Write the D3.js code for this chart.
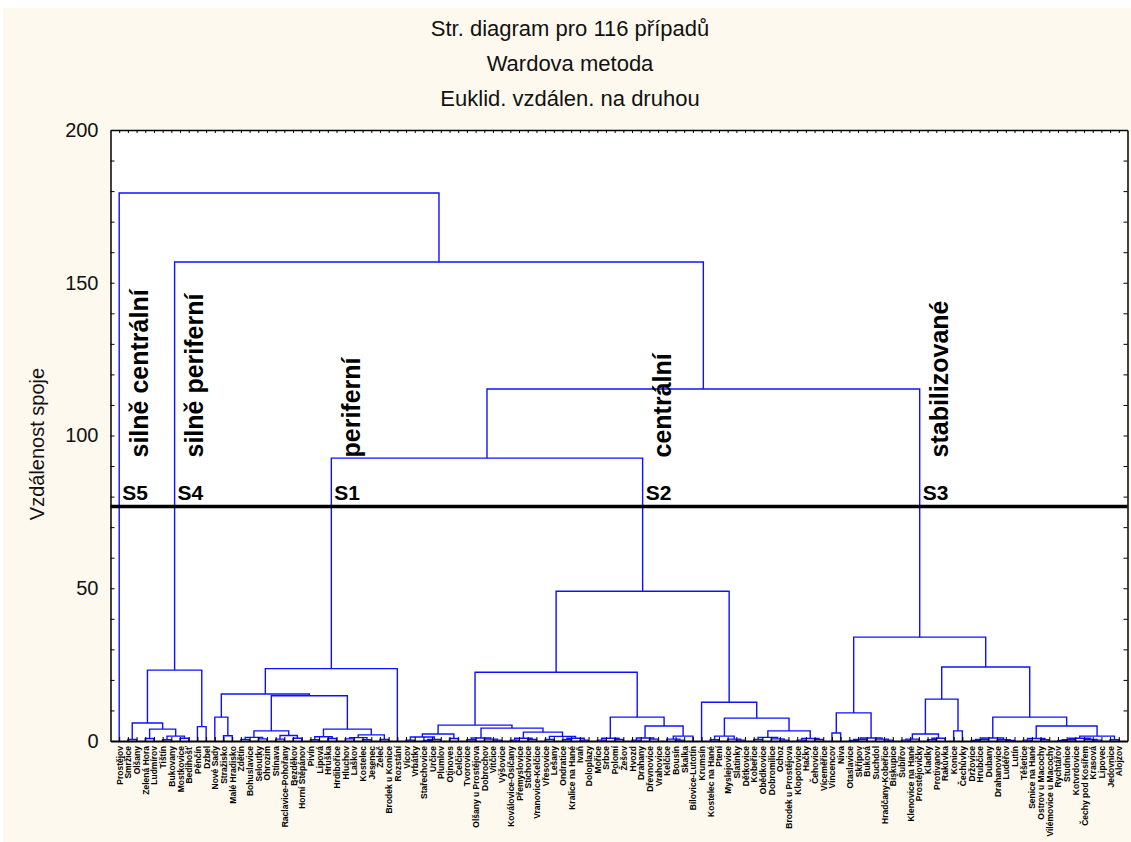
<!DOCTYPE html>
<html>
<head>
<meta charset="utf-8">
<script src="https://cdn.jsdelivr.net/npm/d3@7"></script>
<style>
  body { margin: 0; background: #ffffff; }
  svg { display: block; font-family: "Liberation Sans", Arial, sans-serif; }
</style>
</head>
<body>
<div id="chart"></div>
<script>
const titleLines = ["Str. diagram pro 116 případů", "Wardova metoda", "Euklid. vzdálen. na druhou"];
const yLabel = "Vzdálenost spoje";
const yTicks = [0, 50, 100, 150, 200];
const cutHeight = 76.8;
const clusterCodes = ["S5", "S4", "S1", "S2", "S3"];
const clusterNames = ["silně centrální", "silně periferní", "periferní", "centrální", "stabilizované"];

const leafNames = [
  "Prostějov", "Smržice", "Olšany", "Zelená Hora", "Ludmírov", "Tištín", "Bukovany", "Mostkovice",
  "Bedihošť", "Pěnčín", "Dzbel", "Nové Sady", "Stražisko", "Malé Hradisko", "Zdětín", "Bohuslavice",
  "Seloutky", "Ohrozim", "Stínava", "Raclavice-Pohořany", "Bezděkov", "Horní Štěpánov", "Pivín", "Lipová",
  "Hruška", "Hrdibořice", "Hluchov", "Laškov", "Kostelec", "Jesenec", "Želeč", "Brodek u Konice",
  "Rozstání", "Vícov", "Vrbátky", "Stařechovice", "Určice", "Plumlov", "Otinoves", "Čelčice",
  "Tvorovice", "Olšany u Prostějova", "Dobrochov", "Vitčice", "Výšovice", "Koválovice-Osíčany", "Přemyslovice", "Stichovice",
  "Vranovice-Kelčice", "Vřesovice", "Lešany", "Ondratice", "Kralice na Hané", "Ivaň", "Doloplazy", "Mořice",
  "Srbce", "Polomí", "Žešov", "Hvozd", "Drahany", "Dřevnovice", "Vrahovice", "Kelčice",
  "Bousín", "Skalka", "Bílovice-Lutotín", "Krumsín", "Kostelec na Hané", "Ptení", "Myslejovice", "Slatinky",
  "Dětkovice", "Kobeřice", "Obědkovice", "Dobromilice", "Ochoz", "Brodek u Prostějova", "Klopotovice", "Hačky",
  "Čehovice", "Víceměřice", "Vincencov", "Niva", "Otaslavice", "Skřípov", "Buková", "Suchdol",
  "Hradčany-Kobeřice", "Biskupice", "Šubířov", "Klenovice na Hané", "Prostějovičky", "Kladky", "Protivanov", "Rakůvka",
  "Konice", "Čechůvky", "Držovice", "Hrubčice", "Dubany", "Drahanovice", "Ludéřov", "Lutín",
  "Těšetice", "Senice na Hané", "Ostrov u Macochy", "Vilémovice u Macochy", "Rychtářov", "Studnice", "Kotvrdovice", "Čechy pod Kosířem",
  "Krasová", "Lipovec", "Jedovnice", "Alojzov"
];

// merge tree: [height, left, right]; a plain number is a leaf index into leafNames
const s4Tree = [23.2,
  [5.9, [0.5, 1, 2], [3.9, [0.8, 3, 4], [1.6, [0.4, 5, 6], [0.9, 7, 8]]]],
  [4.7, 9, 10]];

const s1Tree = [23.7,
  [15.4,
    [7.8, 11, [1.7, 12, 13]],
    [14.8,
      [3.3, [1.2, [0.5, 14, 15], [0.7, 16, 17]], [1.8, [0.6, 18, 19], [0.9, 20, 21]]],
      [3.9, [1.4, [0.4, 22, 23], [0.8, 24, 25]], [2.0, [1.1, [0.7, 26, 27], [0.4, 28, 29]], [0.5, 30, 31]]]]],
  32];

const s2Tree = [49,
  [22.5,
    [5.2,
      [2.3, [1.3, [0.3, 33, 34], [0.5, [0.2, 35, 36], 37]], [0.8, 38, 39]],
      [4.2, [1.0, [0.4, 40, 41], [0.6, 42, [0.3, 43, 44]]],
        [2.9, [0.9, [0.3, 45, 46], [0.5, 47, 48]], [1.5, [0.5, 49, 50], [0.9, [0.4, 51, 52], [0.3, 53, 54]]]]]],
    [7.8,
      [0.9, [0.3, 55, 56], [0.5, 57, 58]],
      [4.9, [1.0, [0.3, 59, 60], [0.6, 61, 62]], [1.6, [0.6, 63, [0.3, 64, 65]], 66]]]],
  [12.7, 67,
    [7.5,
      [1.6, [0.4, 68, 69], [0.6, 70, [0.3, 71, 72]]],
      [3.3, [1.2, [0.5, 73, 74], [0.7, 75, [0.3, 76, 77]]], [0.8, [0.3, 78, 79], [0.5, 80, 81]]]]]];

const s3Tree = [34,
  [9.2, [2.6, 82, 83], [1.0, [0.5, [0.2, 84, 85], 86], [0.6, 87, [0.3, 88, 89]]]],
  [24.2,
    [13.7, [2.3, [0.6, [0.3, 90, 91], 92], [0.9, [0.4, 93, 94], 95]], [3.3, 96, 97]],
    [7.8,
      [1.0, [0.5, [0.2, 98, 99], 100], [0.4, 101, [0.2, 102, 103]]],
      [4.9, [0.8, [0.3, 104, 105], [0.4, 106, 107]],
        [1.6, [0.9, [0.4, [0.2, 108, 109], 110], [0.5, 111, [0.3, 112, 113]]], [0.4, 114, 115]]]]]];

const fullTree = [179.4, 0, [156.8, s4Tree, [115.2, [92.6, s1Tree, s2Tree], s3Tree]]];

const width = 1131, height = 842;
const plot = { left: 110.5, right: 1127.5, top: 130, bottom: 741 };

const svg = d3.select("#chart").append("svg")
  .attr("width", width).attr("height", height)
  .attr("viewBox", `0 0 ${width} ${height}`);

svg.append("rect").attr("x", 3).attr("y", 8).attr("width", width - 3).attr("height", height - 8)
  .attr("fill", "#fdf9ee");
svg.append("rect").attr("x", plot.left).attr("y", plot.top)
  .attr("width", plot.right - plot.left).attr("height", plot.bottom - plot.top)
  .attr("fill", "#ffffff");

const x = d3.scaleLinear().domain([-1, leafNames.length]).range([plot.left, plot.right]);
const y = d3.scaleLinear().domain([0, 200]).range([plot.bottom, plot.top]);

// titles
svg.append("g").selectAll("text").data(titleLines).join("text")
  .attr("x", 570).attr("y", (d, i) => 36 + i * 35)
  .attr("text-anchor", "middle")
  .style("font-size", "22px").style("fill", "#111")
  .text(d => d);

// hierarchy: leaves sit on their index, a parent sits halfway between its two children
const root = d3.hierarchy(fullTree, d => Array.isArray(d) ? d.slice(1) : null);
root.eachAfter(n => {
  if (n.children) {
    n.px = d3.mean(n.children, c => c.px);
    n.h = n.data[0];
  } else {
    n.px = x(n.data);
    n.h = 0;
  }
});

const links = svg.append("g").attr("fill", "none").attr("stroke", "#1010ff").attr("stroke-width", 1.4);
links.selectAll("path").data(root.descendants().filter(n => n.children)).join("path")
  .attr("d", n => {
    const [a, b] = n.children;
    return `M${a.px},${y(a.h)}V${y(n.h)}H${b.px}V${y(b.h)}`;
  });

// axes
const leafIdx = d3.range(leafNames.length);
svg.append("g").attr("transform", `translate(0,${plot.top})`)
  .call(d3.axisTop(x).tickValues(leafIdx).tickSizeInner(-3).tickSizeOuter(0).tickFormat(""))
  .call(g => g.select(".domain").attr("stroke-width", 1.5));

svg.append("g").attr("transform", `translate(${plot.right},0)`)
  .call(d3.axisRight(y).ticks(20).tickSizeInner(-4).tickSizeOuter(0).tickFormat(""))
  .call(g => g.select(".domain").attr("stroke-width", 1.5));

const yAxis = svg.append("g").attr("transform", `translate(${plot.left},0)`)
  .call(d3.axisLeft(y).ticks(20).tickSizeInner(-4).tickSizeOuter(0)
    .tickFormat(d => yTicks.includes(d) ? d : ""));
yAxis.select(".domain").attr("stroke-width", 1.5);
yAxis.selectAll("text").attr("x", -12).style("font-size", "20px").style("fill", "#111")
  .style("font-family", "'Liberation Sans', Arial, sans-serif");

const xAxis = svg.append("g").attr("transform", `translate(0,${plot.bottom})`)
  .call(d3.axisBottom(x).tickValues(leafIdx).tickSizeInner(-4).tickSizeOuter(0)
    .tickFormat(i => leafNames[i]));
xAxis.select(".domain").attr("stroke-width", 2.2);
xAxis.selectAll("text")
  .attr("transform", "rotate(-90)")
  .attr("text-anchor", "end")
  .attr("x", -5).attr("y", 0).attr("dy", "0.35em")
  .style("font-size", "8.5px").style("font-weight", "bold").style("fill", "#000")
  .style("font-family", "'Liberation Sans Narrow', 'Liberation Sans', Arial, sans-serif");

svg.append("text")
  .attr("transform", `translate(37,444)rotate(-90)`)
  .attr("text-anchor", "middle").attr("dy", "0.35em")
  .style("font-size", "20px").style("fill", "#111")
  .text(yLabel);

// cut line
svg.append("line")
  .attr("x1", plot.left).attr("x2", plot.right)
  .attr("y1", y(cutHeight)).attr("y2", y(cutHeight))
  .attr("stroke", "#000").attr("stroke-width", 3.5);

// clusters crossing the cut line
const clusters = root.descendants()
  .filter(n => n.h < cutHeight && n.parent && n.parent.h > cutHeight)
  .sort((a, b) => a.px - b.px);

const tags = svg.append("g");
tags.selectAll("text.code").data(clusters).join("text").attr("class", "code")
  .attr("x", n => n.px + 3).attr("y", y(cutHeight) - 6)
  .style("font-size", "21px").style("font-weight", "bold")
  .text((n, i) => clusterCodes[i]);

tags.selectAll("text.name").data(clusters).join("text").attr("class", "name")
  .attr("transform", n => `translate(${n.px + 20},${y(92.8)})rotate(-90)`)
  .attr("dy", "0.35em")
  .style("font-size", "25px").style("font-weight", "bold")
  .text((n, i) => clusterNames[i]);
</script>
</body>
</html>
